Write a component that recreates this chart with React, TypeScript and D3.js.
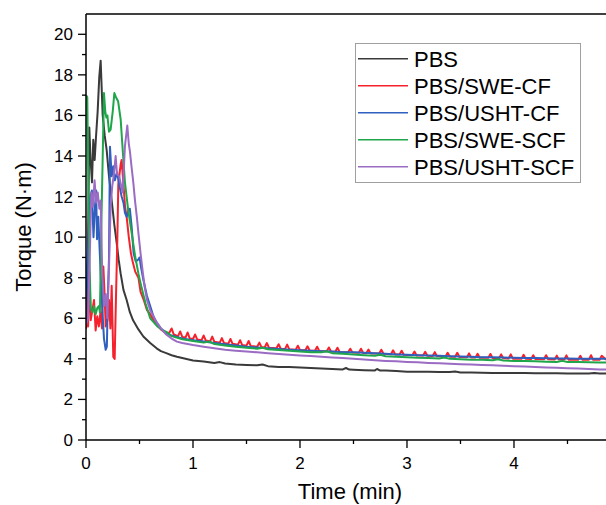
import React from "react";
import * as d3 from "d3";

type P = [number, number];

const seriesNames = ["PBS", "PBS/SWE-CF", "PBS/USHT-CF", "PBS/SWE-SCF", "PBS/USHT-SCF"];
const seriesColors = ["#3a3a3a", "#f5222d", "#2f5fbf", "#1fa64a", "#9b6cc4"];

const pbs: P[] = [
  [0, 5.5], [0.008, 5.7], [0.02, 10.2], [0.031, 15.4], [0.043, 13.8], [0.056, 12.7], [0.068, 14.8],
  [0.081, 13.8], [0.093, 14.9], [0.109, 16.2], [0.124, 17.9], [0.137, 18.7], [0.156, 16.0],
  [0.175, 15.0], [0.193, 14.3], [0.215, 13.0], [0.24, 11.8], [0.265, 10.6], [0.287, 9.7],
  [0.305, 8.9], [0.324, 8.2], [0.35, 7.4], [0.38, 6.9], [0.41, 6.3], [0.44, 5.9], [0.49, 5.45],
  [0.536, 5.1], [0.6, 4.78], [0.66, 4.52], [0.7, 4.38], [0.75, 4.28], [0.8, 4.18], [0.85, 4.1],
  [0.9, 4.04], [0.95, 3.98], [1.0, 3.92], [1.1, 3.87], [1.2, 3.8], [1.25, 3.84], [1.3, 3.77],
  [1.4, 3.72], [1.5, 3.7], [1.6, 3.68], [1.65, 3.72], [1.7, 3.64], [1.8, 3.6], [1.9, 3.6],
  [2.0, 3.57], [2.1, 3.55], [2.2, 3.53], [2.3, 3.5], [2.4, 3.48], [2.43, 3.55], [2.46, 3.47],
  [2.5, 3.46], [2.6, 3.44], [2.7, 3.43], [2.72, 3.5], [2.75, 3.42], [2.8, 3.42], [2.9, 3.4],
  [3.0, 3.37], [3.1, 3.37], [3.2, 3.36], [3.3, 3.35], [3.4, 3.35], [3.45, 3.38], [3.5, 3.33],
  [3.6, 3.33], [3.7, 3.32], [3.8, 3.3], [3.9, 3.3], [4.0, 3.3], [4.1, 3.3], [4.2, 3.29],
  [4.3, 3.29], [4.4, 3.29], [4.5, 3.28], [4.6, 3.28], [4.7, 3.28], [4.75, 3.3], [4.8, 3.28],
  [4.86, 3.28],
];

const swecf: P[] = [
  [0, 5.5], [0.01, 7.6], [0.02, 5.6], [0.03, 8.3], [0.044, 5.9], [0.06, 6.4], [0.075, 6.9],
  [0.09, 5.4], [0.105, 6.1], [0.12, 5.6], [0.135, 6.3], [0.15, 5.5], [0.162, 8.55], [0.172, 7.4],
  [0.184, 5.6], [0.2, 5.9], [0.215, 6.9], [0.228, 5.5], [0.24, 7.6], [0.255, 4.1], [0.268, 4.0],
  [0.28, 7.0], [0.293, 9.9], [0.302, 12.6], [0.324, 13.6], [0.333, 13.8], [0.35, 12.6],
  [0.365, 11.5], [0.38, 11.0], [0.4, 10.0], [0.42, 9.2], [0.436, 8.8], [0.46, 8.3], [0.49, 8.0],
  [0.51, 7.3], [0.54, 6.9], [0.57, 6.4], [0.6, 6.2], [0.63, 5.9], [0.66, 5.7], [0.7, 5.45],
  [0.75, 5.25], [0.78, 5.3], [0.8, 5.5], [0.82, 5.2], [0.86, 5.12], [0.88, 5.35], [0.9, 5.08],
  [0.93, 5.05], [0.95, 5.3], [0.97, 5.0], [1.0, 4.98], [1.02, 5.2], [1.04, 4.95], [1.08, 4.92],
  [1.1, 5.15], [1.12, 4.9], [1.16, 4.86], [1.18, 5.1], [1.2, 4.84], [1.25, 4.8], [1.27, 5.02],
  [1.29, 4.78], [1.33, 4.75], [1.35, 4.98], [1.37, 4.74], [1.42, 4.7], [1.44, 4.92], [1.46, 4.68],
  [1.5, 4.65], [1.52, 4.88], [1.54, 4.63], [1.6, 4.6], [1.62, 4.8], [1.64, 4.58], [1.67, 4.56],
  [1.69, 4.78], [1.71, 4.55], [1.78, 4.52], [1.8, 4.72], [1.82, 4.5], [1.86, 4.48], [1.88, 4.7],
  [1.9, 4.47], [1.96, 4.45], [1.98, 4.65], [2.0, 4.43], [2.05, 4.42], [2.07, 4.62], [2.09, 4.41],
  [2.14, 4.4], [2.16, 4.6], [2.18, 4.39], [2.25, 4.37], [2.27, 4.56], [2.29, 4.36], [2.33, 4.35],
  [2.35, 4.55], [2.37, 4.34], [2.45, 4.32], [2.47, 4.5], [2.49, 4.31], [2.55, 4.3], [2.57, 4.5],
  [2.59, 4.29], [2.62, 4.28], [2.64, 4.46], [2.66, 4.27], [2.74, 4.26], [2.76, 4.45], [2.78, 4.25],
  [2.85, 4.23], [2.87, 4.42], [2.89, 4.22], [2.93, 4.21], [2.95, 4.4], [2.97, 4.2], [3.05, 4.18],
  [3.07, 4.36], [3.09, 4.17], [3.15, 4.16], [3.17, 4.35], [3.19, 4.15], [3.24, 4.14], [3.26, 4.33],
  [3.28, 4.13], [3.36, 4.12], [3.38, 4.3], [3.4, 4.11], [3.45, 4.1], [3.47, 4.3], [3.49, 4.09],
  [3.56, 4.08], [3.58, 4.27], [3.6, 4.07], [3.64, 4.07], [3.66, 4.25], [3.68, 4.06], [3.76, 4.05],
  [3.78, 4.24], [3.8, 4.04], [3.86, 4.03], [3.88, 4.22], [3.9, 4.03], [3.95, 4.02], [3.97, 4.22],
  [3.99, 4.01], [4.07, 4.0], [4.09, 4.2], [4.11, 4.0], [4.16, 3.99], [4.18, 4.18], [4.2, 3.99],
  [4.28, 3.98], [4.3, 4.18], [4.32, 3.98], [4.38, 3.97], [4.4, 4.16], [4.42, 3.97], [4.47, 3.97],
  [4.49, 4.17], [4.51, 3.96], [4.6, 3.96], [4.62, 4.15], [4.64, 3.96], [4.7, 3.96], [4.72, 4.18],
  [4.74, 3.95], [4.8, 3.95], [4.82, 4.15], [4.86, 3.96],
];

const ushtcf: P[] = [
  [0, 6.0], [0.02, 9.5], [0.04, 12.0], [0.055, 12.3], [0.07, 10.0], [0.085, 11.6], [0.095, 12.3],
  [0.103, 9.9], [0.115, 11.0], [0.137, 8.2], [0.155, 6.2], [0.168, 5.0], [0.184, 4.45],
  [0.195, 4.6], [0.205, 7.2], [0.215, 9.0], [0.224, 14.46], [0.24, 13.0], [0.255, 13.5],
  [0.27, 12.8], [0.29, 13.2], [0.31, 12.6], [0.333, 12.0], [0.35, 11.7], [0.364, 11.2],
  [0.38, 11.0], [0.395, 11.3], [0.41, 11.4], [0.427, 10.5], [0.445, 9.2], [0.465, 8.8],
  [0.489, 8.9], [0.5, 9.0], [0.515, 8.5], [0.536, 7.9], [0.57, 7.1], [0.6, 6.6], [0.63, 6.1],
  [0.66, 5.8], [0.7, 5.5], [0.754, 5.27], [0.8, 5.15], [0.9, 5.0], [1.0, 4.92], [1.1, 4.85],
  [1.2, 4.78], [1.3, 4.72], [1.4, 4.66], [1.5, 4.6], [1.6, 4.56], [1.7, 4.52], [1.8, 4.48],
  [1.9, 4.45], [2.0, 4.42], [2.1, 4.4], [2.2, 4.38], [2.3, 4.36], [2.4, 4.33], [2.5, 4.32],
  [2.6, 4.3], [2.7, 4.28], [2.8, 4.25], [2.9, 4.22], [3.0, 4.2], [3.1, 4.18], [3.2, 4.17],
  [3.3, 4.15], [3.4, 4.13], [3.5, 4.12], [3.6, 4.1], [3.7, 4.08], [3.8, 4.08], [3.9, 4.07],
  [4.0, 4.05], [4.1, 4.04], [4.2, 4.04], [4.3, 4.03], [4.4, 4.02], [4.5, 4.02], [4.6, 4.01],
  [4.7, 4.0], [4.8, 4.0], [4.86, 4.0],
];

const swescf: P[] = [
  [0, 17.0], [0.012, 16.9], [0.03, 9.0], [0.045, 6.5], [0.06, 6.3], [0.075, 6.6], [0.09, 6.2],
  [0.105, 6.5], [0.12, 6.6], [0.13, 6.3], [0.145, 11.0], [0.168, 17.1], [0.18, 16.2],
  [0.19, 15.9], [0.2, 16.0], [0.215, 15.2], [0.23, 15.3], [0.25, 16.2], [0.265, 17.1],
  [0.28, 16.9], [0.3, 16.7], [0.324, 15.8], [0.343, 14.3], [0.364, 12.7], [0.395, 11.3],
  [0.427, 10.2], [0.458, 9.1], [0.49, 8.2], [0.52, 7.5], [0.558, 6.7], [0.6, 6.0], [0.667, 5.6],
  [0.72, 5.4], [0.76, 5.3], [0.8, 5.12], [0.9, 4.97], [1.0, 4.88], [1.1, 4.8], [1.15, 4.86],
  [1.2, 4.73], [1.3, 4.66], [1.4, 4.6], [1.5, 4.55], [1.6, 4.5], [1.65, 4.55], [1.7, 4.47],
  [1.8, 4.44], [1.9, 4.4], [2.0, 4.36], [2.1, 4.33], [2.2, 4.32], [2.25, 4.37], [2.3, 4.28],
  [2.4, 4.25], [2.5, 4.22], [2.6, 4.18], [2.7, 4.15], [2.75, 4.2], [2.8, 4.13], [2.9, 4.1],
  [3.0, 4.08], [3.1, 4.05], [3.2, 4.04], [3.3, 4.02], [3.35, 4.07], [3.4, 4.0], [3.5, 3.98],
  [3.6, 3.96], [3.7, 3.95], [3.8, 3.93], [3.85, 3.98], [3.9, 3.92], [4.0, 3.9], [4.1, 3.89],
  [4.2, 3.88], [4.3, 3.86], [4.4, 3.85], [4.45, 3.9], [4.5, 3.85], [4.6, 3.84], [4.7, 3.83],
  [4.8, 3.82], [4.86, 3.82],
];

const ushtscf: P[] = [
  [0, 5.7], [0.02, 6.0], [0.035, 9.0], [0.05, 12.2], [0.065, 11.5], [0.08, 12.8], [0.095, 11.7],
  [0.11, 12.2], [0.125, 11.4], [0.137, 11.8], [0.152, 8.2], [0.168, 6.6], [0.185, 7.2],
  [0.2, 6.0], [0.215, 8.5], [0.23, 11.5], [0.245, 12.5], [0.262, 13.15], [0.277, 14.0],
  [0.29, 13.1], [0.31, 13.0], [0.33, 12.5], [0.343, 12.2], [0.364, 14.5], [0.386, 15.5],
  [0.4, 14.6], [0.411, 14.2], [0.425, 13.5], [0.442, 12.7], [0.458, 11.8], [0.475, 11.0],
  [0.49, 10.2], [0.51, 9.2], [0.53, 8.3], [0.55, 7.5], [0.57, 6.9], [0.6, 6.4], [0.63, 6.1],
  [0.66, 5.8], [0.7, 5.5], [0.75, 5.2], [0.8, 5.0], [0.85, 4.85], [0.9, 4.78], [1.0, 4.68],
  [1.1, 4.6], [1.2, 4.52], [1.3, 4.45], [1.4, 4.4], [1.5, 4.36], [1.6, 4.32], [1.7, 4.28],
  [1.8, 4.24], [1.9, 4.2], [2.0, 4.17], [2.1, 4.14], [2.2, 4.1], [2.3, 4.07], [2.4, 4.04],
  [2.5, 4.0], [2.6, 3.97], [2.7, 3.93], [2.8, 3.9], [2.9, 3.88], [3.0, 3.85], [3.1, 3.83],
  [3.2, 3.8], [3.3, 3.78], [3.4, 3.76], [3.5, 3.74], [3.6, 3.72], [3.7, 3.7], [3.8, 3.68],
  [3.9, 3.66], [4.0, 3.64], [4.1, 3.62], [4.2, 3.6], [4.3, 3.58], [4.4, 3.56], [4.5, 3.54],
  [4.6, 3.52], [4.7, 3.5], [4.8, 3.48], [4.86, 3.48],
];

const allSeries = [pbs, swecf, ushtcf, swescf, ushtscf];

const yTicks = [0, 2, 4, 6, 8, 10, 12, 14, 16, 18, 20];
const yMinor = [1, 3, 5, 7, 9, 11, 13, 15, 17, 19];
const xTicks = [0, 1, 2, 3, 4];
const xMinor = [0.5, 1.5, 2.5, 3.5, 4.5];

const W = 606;
const H = 505;
const L = 86;
const R = 606;
const T = 14;
const B = 440;
const FONT = "'Liberation Sans', Arial, sans-serif";

export default function App() {
  const x = d3.scaleLinear().domain([0, 4.86]).range([L, R]);
  const y = d3.scaleLinear().domain([0, 21]).range([B, T]);
  const line = d3.line<P>().x((d) => x(d[0])).y((d) => y(d[1]));

  return (
    <svg width={W} height={H} style={{ position: "absolute", left: 0, top: 0, background: "#fff" }}>
      <defs>
        <clipPath id="plot">
          <rect x={L} y={T} width={R - L} height={B - T} />
        </clipPath>
      </defs>
      <g clipPath="url(#plot)">
        {allSeries.map((s, i) => (
          <path key={i} d={line(s) || ""} fill="none" stroke={seriesColors[i]} strokeWidth={2} strokeLinejoin="round" />
        ))}
      </g>
      <line x1={L} y1={T} x2={W} y2={T} stroke="#000" strokeWidth={1.5} />
      <line x1={L} y1={T} x2={L} y2={B} stroke="#000" strokeWidth={1.5} />
      <line x1={L} y1={B} x2={W} y2={B} stroke="#000" strokeWidth={1.5} />
      {yTicks.map((v) => (
        <g key={"y" + v}>
          <line x1={L - 8} x2={L} y1={y(v)} y2={y(v)} stroke="#000" strokeWidth={1.3} />
          <text x={L - 13} y={y(v)} dy="0.35em" textAnchor="end" fontSize={17} fontFamily={FONT} fill="#000">
            {v}
          </text>
        </g>
      ))}
      {yMinor.map((v) => (
        <line key={"ym" + v} x1={L - 4} x2={L} y1={y(v)} y2={y(v)} stroke="#000" strokeWidth={1.3} />
      ))}
      {xTicks.map((v) => (
        <g key={"x" + v}>
          <line x1={x(v)} x2={x(v)} y1={B} y2={B + 8} stroke="#000" strokeWidth={1.3} />
          <text x={x(v)} y={469} textAnchor="middle" fontSize={17} fontFamily={FONT} fill="#000">
            {v}
          </text>
        </g>
      ))}
      {xMinor.map((v) => (
        <line key={"xm" + v} x1={x(v)} x2={x(v)} y1={B} y2={B + 4} stroke="#000" strokeWidth={1.3} />
      ))}
      <text x={350} y={499} textAnchor="middle" fontSize={22} fontFamily={FONT} fill="#000">
        Time (min)
      </text>
      <text
        transform={`translate(31, ${(T + B) / 2}) rotate(-90)`}
        textAnchor="middle"
        fontSize={22}
        fontFamily={FONT}
        fill="#000"
      >
        Torque (N·m)
      </text>
      <rect x={355.5} y={43.5} width={225} height={139} fill="#fff" stroke="#a0a0a0" strokeWidth={1} />
      {seriesNames.map((n, i) => {
        const cy = 58.7 + i * 27;
        return (
          <g key={n}>
            <line x1={358} x2={408} y1={cy} y2={cy} stroke={seriesColors[i]} strokeWidth={1.6} />
            <text x={414} y={cy + 8} fontSize={22} fontFamily={FONT} fill="#000">
              {n}
            </text>
          </g>
        );
      })}
    </svg>
  );
}
